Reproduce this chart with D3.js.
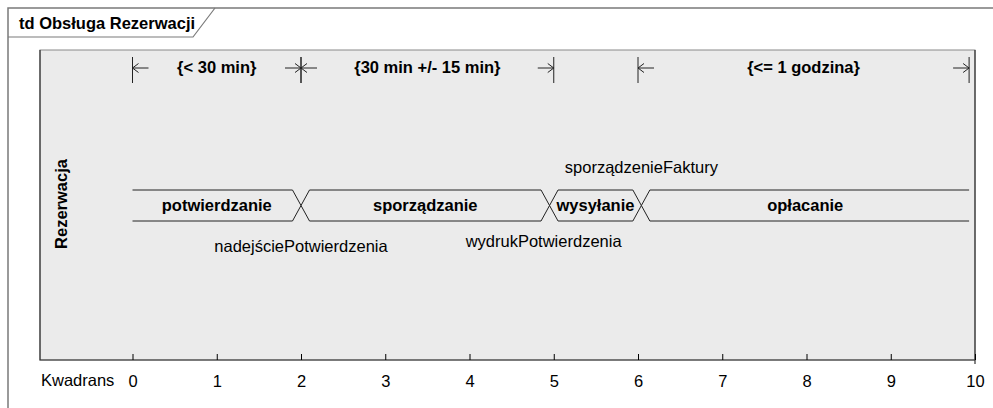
<!DOCTYPE html>
<html>
<head>
<meta charset="utf-8">
<script src="https://cdn.jsdelivr.net/npm/d3@7"></script>
<style>
  body { margin: 0; background: #ffffff; }
  text { font-family: "Liberation Sans", Arial, sans-serif; font-size: 16.5px; fill: #000; }
  .bold { font-weight: bold; }
</style>
</head>
<body>
<div class="chart-area"></div>
<script>
// diagram data
var frameTitle = "td Obsługa Rezerwacji";
var lifelineName = "Rezerwacja";
var axisName = "Kwadrans";
var tickValues = [0, 1, 2, 3, 4, 5, 6, 7, 8, 9, 10];

var stateNames = ["potwierdzanie", "sporządzanie", "wysyłanie", "opłacanie"];
var stateStart = [0, 2, 4.95, 6.04];
var stateEnd = [2, 4.95, 6.04, 9.93];

var eventNames = ["nadejściePotwierdzenia", "wydrukPotwierdzenia", "sporządzenieFaktury"];
var eventTimes = [2, 4.88, 6.04];

var constraintLabels = ["{< 30 min}", "{30 min +/- 15 min}", "{<= 1 godzina}"];
var constraintStart = [0, 2, 6];
var constraintEnd = [2, 5, 9.93];

var width = 993, height = 408;

var svg = d3.select(".chart-area").append("svg")
    .attr("width", width)
    .attr("height", height);

// time scale
var x = d3.scaleLinear()
    .domain([0, 10])
    .range([132.5, 975]);

// outer frame + title tab
svg.append("path")
    .attr("d", "M8,410 L8,8 L995,8")
    .attr("fill", "none")
    .attr("stroke", "#7a7a7a")
    .attr("stroke-width", 1.5);

svg.append("path")
    .attr("d", "M8,37 L193,37 L215,8")
    .attr("fill", "none")
    .attr("stroke", "#7a7a7a")
    .attr("stroke-width", 1.2);

svg.append("text")
    .attr("class", "bold")
    .attr("x", 19)
    .attr("y", 29)
    .text(frameTitle);

// grey panel
var panelTop = 50, panelBottom = 360, panelLeft = 40;
svg.append("rect")
    .attr("x", panelLeft)
    .attr("y", panelTop)
    .attr("width", x(10) - panelLeft)
    .attr("height", panelBottom - panelTop)
    .attr("fill", "#ebebeb")
    .attr("stroke", "#8a8a8a")
    .attr("stroke-width", 1);

// darker left/right/bottom edges
svg.append("path")
    .attr("d", "M" + panelLeft + "," + panelTop + " L" + panelLeft + "," + panelBottom +
        " L" + x(10) + "," + panelBottom + " M" + x(10) + "," + panelTop + " L" + x(10) + "," + (panelBottom + 4))
    .attr("fill", "none")
    .attr("stroke", "#333")
    .attr("stroke-width", 1.2);

// axis with ticks pointing up
var axis = d3.axisBottom(x)
    .tickValues(tickValues)
    .tickSize(-6)
    .tickSizeOuter(0)
    .tickPadding(15)
    .tickFormat(d3.format("d"));

var gAxis = svg.append("g")
    .attr("transform", "translate(0," + panelBottom + ")")
    .call(axis);
gAxis.select(".domain").remove();
gAxis.selectAll("line").attr("stroke", "#000");
gAxis.selectAll("text")
    .attr("font-size", null)
    .attr("font-family", null)
    .style("font-size", "16.5px");

svg.append("text")
    .attr("x", 41)
    .attr("y", 386)
    .text(axisName);

// lifeline name
svg.append("text")
    .attr("class", "bold")
    .attr("text-anchor", "middle")
    .attr("transform", "translate(67,204) rotate(-90)")
    .text(lifelineName);

// state lifeline
var yTop = 190, yBot = 221, yMid = (yTop + yBot) / 2, h = 8.5;
var last = stateNames.length - 1;

function edge(i, yLine) {
    var xl = x(stateStart[i]), xr = x(stateEnd[i]);
    var p = d3.path();
    if (i > 0) {
        p.moveTo(xl, yMid);
        p.lineTo(xl + h, yLine);
    } else {
        p.moveTo(xl, yLine);
    }
    if (i < last) {
        p.lineTo(xr - h, yLine);
        p.lineTo(xr, yMid);
    } else {
        p.lineTo(xr, yLine);
    }
    return p.toString();
}

var states = svg.selectAll("g.state")
    .data(stateNames)
    .enter()
    .append("g")
    .attr("class", "state");

states.append("path")
    .attr("d", function(d, i) { return edge(i, yTop); })
    .attr("fill", "none")
    .attr("stroke", "#222");

states.append("path")
    .attr("d", function(d, i) { return edge(i, yBot); })
    .attr("fill", "none")
    .attr("stroke", "#222");

states.append("text")
    .attr("class", "bold")
    .attr("text-anchor", "middle")
    .attr("x", function(d, i) { return (x(stateStart[i]) + x(stateEnd[i])) / 2; })
    .attr("y", 211)
    .text(function(d) { return d; });

// event labels
var eventY = [252, 247, 173];
svg.selectAll("text.event")
    .data(eventNames)
    .enter()
    .append("text")
    .attr("class", "event")
    .attr("text-anchor", "middle")
    .attr("x", function(d, i) { return x(eventTimes[i]); })
    .attr("y", function(d, i) { return eventY[i]; })
    .text(function(d) { return d; });

// duration constraints
var barTop = 57, barBot = 83, arrowY = 68, arrowLen = 16;

function marker(xp, dir) {
    // dir = 1: arrow comes from the right (start), -1: from the left (end)
    var p = d3.path();
    p.moveTo(xp, barTop);
    p.lineTo(xp, barBot);
    p.moveTo(xp + dir * arrowLen, arrowY);
    p.lineTo(xp, arrowY);
    p.moveTo(xp + dir * 6, arrowY - 4.5);
    p.lineTo(xp, arrowY);
    p.lineTo(xp + dir * 6, arrowY + 4.5);
    return p.toString();
}

var constraints = svg.selectAll("g.constraint")
    .data(constraintLabels)
    .enter()
    .append("g")
    .attr("class", "constraint");

constraints.append("path")
    .attr("d", function(d, i) {
        return marker(x(constraintStart[i]), 1) + marker(x(constraintEnd[i]), -1);
    })
    .attr("fill", "none")
    .attr("stroke", "#222");

constraints.append("text")
    .attr("class", "bold")
    .attr("text-anchor", "middle")
    .attr("x", function(d, i) { return (x(constraintStart[i]) + x(constraintEnd[i])) / 2; })
    .attr("y", 73)
    .text(function(d) { return d; });
</script>
</body>
</html>
